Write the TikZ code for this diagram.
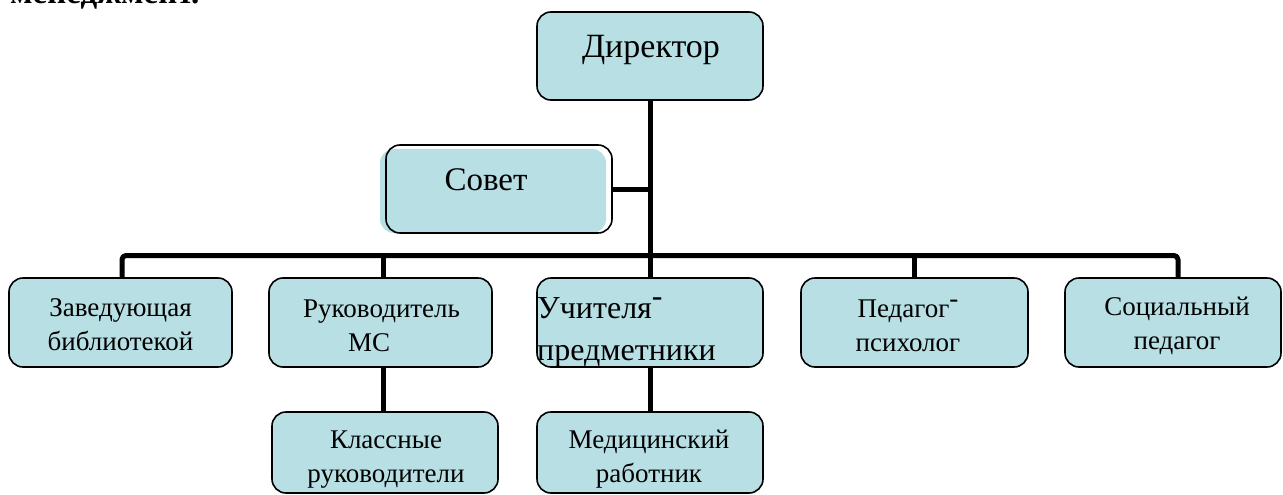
\documentclass[tikz,border=0pt]{standalone}
\usepackage{fontspec}
\setmainfont{Liberation Serif}
\definecolor{boxfill}{RGB}{184,223,228}
\tikzset{
  box/.style={draw=black, line width=1.6pt, fill=boxfill, rounded corners=14pt, inner sep=0pt},
  shadefill/.style={fill=boxfill, rounded corners=14pt, inner sep=0pt},
  outline/.style={draw=black, line width=1.6pt, rounded corners=14pt, inner sep=0pt},
  conn/.style={draw=black, line width=5pt, line join=round},
  bigtxt/.style={font=\fontsize{34}{40}\selectfont, inner sep=0pt, anchor=base},
  lowtxt/.style={font=\fontsize{27}{34}\selectfont, align=center, anchor=north, inner sep=0pt},
  uchtxt/.style={font=\fontsize{32}{42}\selectfont, align=left, anchor=north west, inner sep=0pt},
}
\begin{document}
\begin{tikzpicture}[x=1pt,y=-1pt]
\path[use as bounding box] (0,0) rectangle (1283,495);
% partly visible heading
\node[font=\bfseries\fontsize{33}{40}\selectfont, inner sep=0pt, anchor=base west] (head) at (10,4) {менеджмент.};
% boxes
\node[box, minimum width=226pt, minimum height=88pt] (dir) at (650,56) {};
\node[shadefill, minimum width=226pt, minimum height=84pt] (sovf) at (493,191) {};
\node[outline, minimum width=226pt, minimum height=88pt] (sov) at (499,189) {};
\node[box, minimum width=223pt, minimum height=89pt] (zav) at (120.5,322.5) {};
\node[box, minimum width=223pt, minimum height=89pt] (ruk) at (380.5,322.5) {};
\node[box, minimum width=226pt, minimum height=89pt] (uch) at (650,322.5) {};
\node[box, minimum width=227pt, minimum height=89pt] (ped) at (914.5,322.5) {};
\node[box, minimum width=216pt, minimum height=89pt] (soc) at (1173,322.5) {};
\node[box, minimum width=226pt, minimum height=81pt] (kl) at (385,452.5) {};
\node[box, minimum width=226pt, minimum height=81pt] (med) at (650,452.5) {};
% connectors
\coordinate (barL) at (122,255.5);
\coordinate (barR) at (1178,255.5);
\coordinate (rukdrop) at (383,255.5);
\draw[conn] (dir.south) -- (dir.south |- barL);
\draw[conn] (sov.east) -- (sov.east -| dir.south);
\draw[conn, rounded corners=4pt] (barL |- zav.north) -- (barL) -- (barR) -- (barR |- soc.north);
\draw[conn] (rukdrop) -- (rukdrop |- ruk.north);
\draw[conn] (uch.north |- barL) -- (uch.north);
\draw[conn] (ped.north |- barL) -- (ped.north);
\draw[conn] (rukdrop |- ruk.south) -- (rukdrop |- kl.north);
\draw[conn] (uch.south) -- (med.north);
% texts
\node[bigtxt] (dirt) at (651,58) {Директор};
\node[bigtxt, font=\fontsize{33}{40}\selectfont] (sovt) at (486,190) {Совет};
\node[lowtxt] (zavt) at (120.5,292.2) {\strut Заведующая\\библиотекой};
\node[lowtxt, align=left, anchor=north west] (rukt) at (303,293.2) {\strut Руководитель\\\hspace*{45pt}МС};
\node[uchtxt] (ucht) at (537,288.6) {\strut Учителя\raisebox{12pt}{-}\\предметники};
\node[lowtxt] (pedt) at (908,293.2) {\strut Педагог\raisebox{10pt}{-}\\психолог};
\node[lowtxt] (soct) at (1177,291.2) {\strut Социальный\\педагог};
\node[lowtxt] (klt) at (386,424.2) {\strut Классные\\руководители};
\node[lowtxt] (medt) at (649,424.2) {\strut Медицинский\\работник};
\end{tikzpicture}
\end{document}
